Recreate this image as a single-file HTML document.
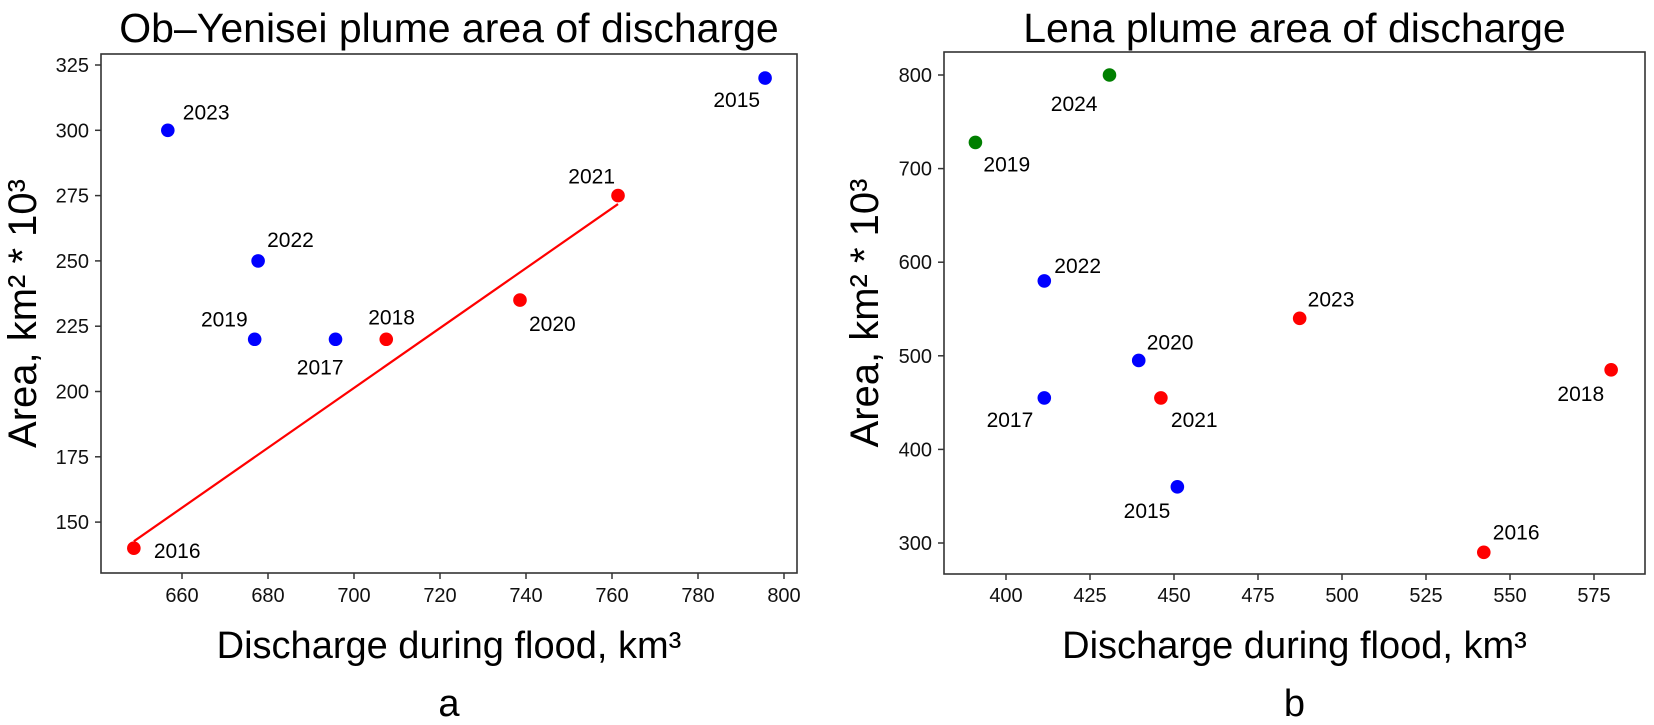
<!DOCTYPE html>
<html><head><meta charset="utf-8"><style>
html,body{margin:0;padding:0;background:#fff;}
svg{display:block;font-family:"Liberation Sans",sans-serif;}
</style></head><body>
<svg id="fig" width="1654" height="725" viewBox="0 0 1654 725"></svg>
<script>
// Left chart data (Ob-Yenisei)
const obYears = ['2015','2023','2021','2022','2019','2017','2018','2020','2016'];
const obX = [795.6, 656.7, 761.4, 677.7, 676.9, 695.7, 707.5, 738.6, 648.8];
const obY = [320, 300, 275, 250, 220, 220, 220, 235, 140];
const obColor = ['blue','blue','red','blue','blue','blue','red','red','red'];
const obXTicks = [660, 680, 700, 720, 740, 760, 780, 800];
const obYTicks = [150, 175, 200, 225, 250, 275, 300, 325];
// Right chart data (Lena)
const lenaYears = ['2024','2019','2022','2017','2020','2021','2015','2023','2018','2016'];
const lenaX = [430.8, 390.9, 411.4, 411.4, 439.5, 446.1, 451.0, 487.4, 580.1, 542.2];
const lenaY = [800, 728, 580, 455, 495, 455, 360, 540, 485, 290];
const lenaColor = ['green','green','blue','blue','blue','red','blue','red','red','red'];
const lenaXTicks = [400, 425, 450, 475, 500, 525, 550, 575];
const lenaYTicks = [300, 400, 500, 600, 700, 800];

const NS = 'http://www.w3.org/2000/svg';
const svg = document.getElementById('fig');
function mk(tag, attrs, parent){const e=document.createElementNS(NS,tag);for(const k in attrs)e.setAttribute(k,attrs[k]);(parent||svg).appendChild(e);return e;}
function txt(s, attrs, parent){const e=mk('text',attrs,parent);e.textContent=s;return e;}

// label offsets [anchor, dx, dy]
const obOff = {'2015':['end',-5,29],'2023':['start',15,-11],'2021':['end',-3,-12],'2022':['start',9,-14],'2019':['end',-7,-13],'2017':['end',8,35],'2018':['start',-18,-15],'2020':['start',9,31],'2016':['start',20,10]};
const lenaOff = {'2024':['end',-12,36],'2019':['start',8,29],'2022':['start',10,-8],'2017':['end',-11,29],'2020':['start',8,-11],'2021':['start',10,29],'2015':['end',-7,31],'2023':['start',8,-12],'2018':['end',-7,31],'2016':['start',9,-13]};

function chart(cfg){
  const g = mk('g',{});
  
  
  const {L,R,T,B} = cfg.box;
  const sx = v => cfg.x0p + (v - cfg.x0v) * cfg.kx;
  const sy = v => cfg.y0p - (v - cfg.y0v) * cfg.ky;
  const t = txt(cfg.title,{x:(L+R)/2,y:42,'font-size':41,'text-anchor':'middle',fill:'#000'},g);
  
  
  const fr = mk('rect',{x:L,y:T,width:R-L,height:B-T,fill:'none',stroke:'#333','stroke-width':1.6},g);
  
  
  cfg.xt.forEach(v=>{
    const x=sx(v);
    mk('line',{x1:x,x2:x,y1:B,y2:B+6,stroke:'#333','stroke-width':1.5},g);
    const e=txt(String(v),{x:x,y:602,'font-size':20,'text-anchor':'middle',fill:'#111'},g);
    
    
  });
  cfg.yt.forEach(v=>{
    const y=sy(v);
    mk('line',{x1:L-6,x2:L,y1:y,y2:y,stroke:'#333','stroke-width':1.5},g);
    const e=txt(String(v),{x:L-12,y:y+7,'font-size':20,'text-anchor':'end',fill:'#111'},g);
    
    
  });
  const xl=txt('Discharge during flood, km³',{x:(L+R)/2,y:658,'font-size':38,'text-anchor':'middle',fill:'#000'},g);
  
  
  const cy=(T+B)/2;
  const yl=txt('Area, km² * 10³',{x:0,y:0,'font-size':40,'text-anchor':'middle',fill:'#000',transform:`translate(${cfg.ylx},${cy}) rotate(-90)`},g);
  
  
  const pl=txt(cfg.letter,{x:(L+R)/2,y:716,'font-size':38,'text-anchor':'middle',fill:'#000'},g);
  
  
  if(cfg.fit){
    // least-squares fit through red points
    const xs=[],ys=[];
    cfg.xs.forEach((v,i)=>{if(cfg.cs[i]==='red'){xs.push(v);ys.push(cfg.ys[i]);}});
    const mx=xs.reduce((a,b)=>a+b,0)/xs.length, my=ys.reduce((a,b)=>a+b,0)/ys.length;
    let sxy=0,sxx=0; xs.forEach((v,i)=>{sxy+=(v-mx)*(ys[i]-my);sxx+=(v-mx)*(v-mx);});
    const k=sxy/sxx; const x1=Math.min(...xs), x2=Math.max(...xs);
    const ln=mk('line',{x1:sx(x1),y1:sy(my+k*(x1-mx)),x2:sx(x2),y2:sy(my+k*(x2-mx)),stroke:'#f00','stroke-width':2.2},g);
    
    
  }
  cfg.xs.forEach((v,i)=>{
    const px=sx(v), py=sy(cfg.ys[i]);
    const c=mk('circle',{cx:px,cy:py,r:6.8,fill:cfg.cs[i]==='green'?'#007f00':(cfg.cs[i]==='red'?'#f00':'#00f')},g);
    
    
    const o=cfg.off[cfg.yrs[i]];
    const a=txt(cfg.yrs[i],{x:px+o[1],y:py+o[2],'font-size':21,'text-anchor':o[0],fill:'#000'},g);
    
    
  });
}
chart({name:'ob-yenisei-chart',title:'Ob–Yenisei plume area of discharge',letter:'a',box:{L:101,R:797,T:54,B:573},
  x0v:660,x0p:182,kx:86/20,y0v:325,y0p:65,ky:65.3/25,xt:obXTicks,yt:obYTicks,ylx:36,
  xs:obX,ys:obY,cs:obColor,yrs:obYears,off:obOff,fit:true});
chart({name:'lena-chart',title:'Lena plume area of discharge',letter:'b',box:{L:944,R:1645,T:52,B:574},
  x0v:400,x0p:1006,kx:84/25,y0v:800,y0p:75,ky:93.6/100,xt:lenaXTicks,yt:lenaYTicks,ylx:878,
  xs:lenaX,ys:lenaY,cs:lenaColor,yrs:lenaYears,off:lenaOff,fit:false});
</script>
</body></html>
